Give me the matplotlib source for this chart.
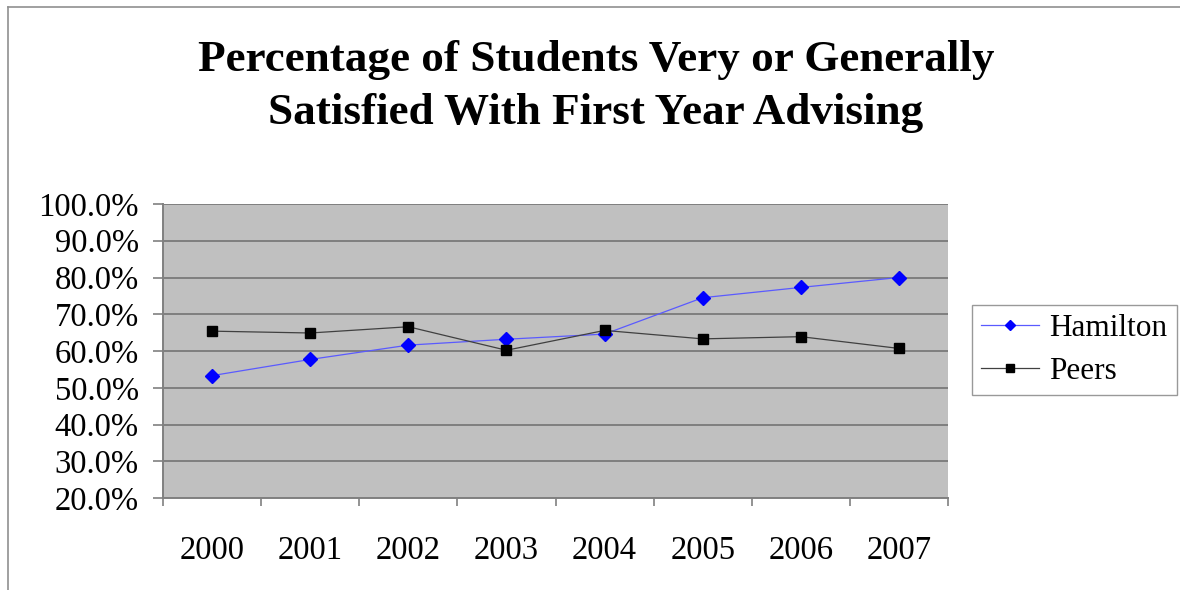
import numpy as np
import matplotlib
matplotlib.use("Agg")
import matplotlib.pyplot as plt
from matplotlib.lines import Line2D
from matplotlib.ticker import FixedLocator, FuncFormatter

years = ['2000', '2001', '2002', '2003', '2004', '2005', '2006', '2007']
hamilton = [53.3, 57.7, 61.6, 63.2, 64.6, 74.5, 77.3, 80.0]
peers = [65.4, 64.9, 66.6, 60.2, 65.6, 63.3, 63.9, 60.7]
y_ticks = [20, 30, 40, 50, 60, 70, 80, 90, 100]

plt.rcParams['font.family'] = ['Liberation Serif', 'DejaVu Serif']

fig = plt.figure(figsize=(11.8, 5.9), dpi=100)
ax = fig.add_axes([163/1180, 1-498/590, (948-163)/1180, (498-204)/590])

x = np.arange(len(years))
ax.set_facecolor('#c0c0c0')
for t in y_ticks:
    ax.axhline(t, color='#7f7f7f', lw=1.4, zorder=1)

h1, = ax.plot(x, hamilton, color='#5a5aff', lw=0.9, marker='D', markersize=7,
              markerfacecolor='#0000ff', markeredgecolor='#0000ff', label='Hamilton', zorder=3)
h2, = ax.plot(x, peers, color='#404040', lw=0.9, marker='s', markersize=7.5,
              markerfacecolor='black', markeredgecolor='black', label='Peers', zorder=3)

ax.set_xlim(-0.5, len(years) - 0.5)
ax.set_ylim(20, 100)
ax.yaxis.set_major_locator(FixedLocator(y_ticks))
ax.yaxis.set_major_formatter(FuncFormatter(lambda v, p: f'{v:.1f}%'))
ax.xaxis.set_major_locator(FixedLocator(np.arange(-0.5, len(years), 1.0)))
ax.xaxis.set_major_formatter(FuncFormatter(lambda v, p: ''))
ax.xaxis.set_minor_locator(FixedLocator(x))
ax.set_xticklabels(years, minor=True)
ax.tick_params(axis='x', which='minor', length=0, pad=27, labelsize=23.5)
ax.tick_params(axis='x', which='major', length=6, width=1.2, color='#808080')
ax.tick_params(axis='y', length=7, width=1.2, color='#808080', labelsize=23.5, pad=10.5)

for side in ['top', 'right']:
    ax.spines[side].set_visible(False)
for side in ['left', 'bottom']:
    ax.spines[side].set_color('#808080')
    ax.spines[side].set_linewidth(1.4)

fig.text(0.505, 1-40/590, 'Percentage of Students Very or Generally\nSatisfied With First Year Advising',
         ha='center', va='top', fontsize=32.5, fontweight='bold', linespacing=1.42)

leg = fig.legend(handles=[h1, h2], loc='center left',
                 bbox_to_anchor=(972/1180, 1-350/590), fontsize=22.5,
                 frameon=True, fancybox=False, handlelength=1.85,
                 labelspacing=0.45, borderpad=0.3, handletextpad=0.32,
                 borderaxespad=0, markerscale=0.75)
leg.get_frame().set_edgecolor('#808080')
leg.get_frame().set_linewidth(1.0)

# outer chart frame (top and left edges visible)
fig.add_artist(Line2D([8/1180, 8/1180], [0, 1-7/590], transform=fig.transFigure, color='#909090', lw=1.2))
fig.add_artist(Line2D([8/1180, 1], [1-7/590, 1-7/590], transform=fig.transFigure, color='#909090', lw=1.2))

fig.savefig('out.png', dpi=100)
